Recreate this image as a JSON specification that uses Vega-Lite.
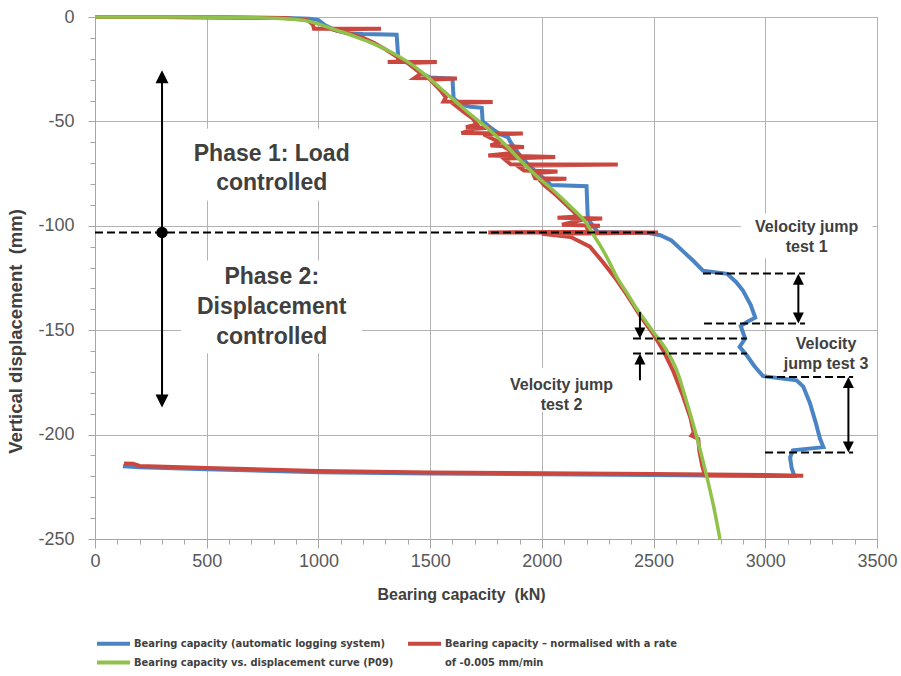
{
  "$schema": "https://vega.github.io/schema/vega-lite/v6.json",
  "width": 782,
  "height": 522,
  "autosize": "none",
  "padding": {"left": 95, "top": 17, "right": 24, "bottom": 137},
  "background": "white",
  "datasets": {
    "blue": [
      {"x": 0, "y": 0}, {"x": 300, "y": 0}, {"x": 600, "y": -0.2}, {"x": 850, "y": -0.5}, {"x": 960, "y": -0.8},
      {"x": 1000, "y": -1.5}, {"x": 1030, "y": -4}, {"x": 1080, "y": -6.5}, {"x": 1130, "y": -7.8}, {"x": 1200, "y": -8.2},
      {"x": 1350, "y": -8.5}, {"x": 1358, "y": -20.5}, {"x": 1400, "y": -22}, {"x": 1460, "y": -27}, {"x": 1500, "y": -29},
      {"x": 1600, "y": -29.5}, {"x": 1605, "y": -39}, {"x": 1640, "y": -42}, {"x": 1680, "y": -43}, {"x": 1731, "y": -43.5},
      {"x": 1735, "y": -50}, {"x": 1770, "y": -53}, {"x": 1810, "y": -56}, {"x": 1848, "y": -57.5}, {"x": 1860, "y": -60},
      {"x": 1900, "y": -66}, {"x": 1950, "y": -72}, {"x": 2000, "y": -76.5}, {"x": 2040, "y": -80.5}, {"x": 2200, "y": -81},
      {"x": 2205, "y": -95}, {"x": 2215, "y": -98}, {"x": 2250, "y": -103}, {"x": 2480, "y": -103.5}, {"x": 2530, "y": -104.5},
      {"x": 2580, "y": -107}, {"x": 2630, "y": -112}, {"x": 2680, "y": -117}, {"x": 2721, "y": -121.5}, {"x": 2830, "y": -123},
      {"x": 2870, "y": -127}, {"x": 2900, "y": -131}, {"x": 2935, "y": -138}, {"x": 2955, "y": -144}, {"x": 2920, "y": -146},
      {"x": 2890, "y": -148}, {"x": 2910, "y": -154}, {"x": 2885, "y": -158}, {"x": 2917, "y": -162}, {"x": 2950, "y": -167},
      {"x": 2990, "y": -172}, {"x": 3140, "y": -174}, {"x": 3170, "y": -177}, {"x": 3200, "y": -185}, {"x": 3225, "y": -194},
      {"x": 3245, "y": -202}, {"x": 3260, "y": -206}, {"x": 3124, "y": -207.5}, {"x": 3111, "y": -211}, {"x": 3118, "y": -216},
      {"x": 3130, "y": -219.8}, {"x": 3000, "y": -219.8}, {"x": 2500, "y": -219.4}, {"x": 2000, "y": -219}, {"x": 1500, "y": -218.6},
      {"x": 1000, "y": -218}, {"x": 500, "y": -216.6}, {"x": 200, "y": -215.6}, {"x": 125, "y": -215.2}
    ],
    "red": [
      {"x": 0, "y": 0}, {"x": 300, "y": 0}, {"x": 600, "y": -0.2}, {"x": 850, "y": -0.5}, {"x": 950, "y": -1.5},
      {"x": 975, "y": -3.5}, {"x": 980, "y": -5.6}, {"x": 1280, "y": -5.6}, {"x": 1060, "y": -5.9}, {"x": 1150, "y": -8.2},
      {"x": 1200, "y": -10}, {"x": 1250, "y": -12.5}, {"x": 1300, "y": -15.5}, {"x": 1350, "y": -19}, {"x": 1370, "y": -21.3},
      {"x": 1310, "y": -21.5}, {"x": 1530, "y": -21.5}, {"x": 1400, "y": -22}, {"x": 1440, "y": -25.5}, {"x": 1460, "y": -27},
      {"x": 1430, "y": -29.3}, {"x": 1620, "y": -29.5}, {"x": 1500, "y": -30}, {"x": 1545, "y": -35}, {"x": 1570, "y": -38.5},
      {"x": 1560, "y": -40.5}, {"x": 1780, "y": -40.7}, {"x": 1600, "y": -41.2}, {"x": 1650, "y": -45.5}, {"x": 1690, "y": -48.5},
      {"x": 1710, "y": -51.5}, {"x": 1660, "y": -52.8}, {"x": 1770, "y": -53}, {"x": 1700, "y": -53.5}, {"x": 1640, "y": -55.6},
      {"x": 1915, "y": -55.8}, {"x": 1740, "y": -56.3}, {"x": 1810, "y": -60}, {"x": 1770, "y": -61.5}, {"x": 1920, "y": -62.3},
      {"x": 1840, "y": -62.8}, {"x": 1880, "y": -65}, {"x": 1760, "y": -66.3}, {"x": 2060, "y": -67}, {"x": 1830, "y": -67.8},
      {"x": 1860, "y": -70.5}, {"x": 2340, "y": -70.7}, {"x": 1890, "y": -71.2}, {"x": 1920, "y": -73.5}, {"x": 2070, "y": -74}, {"x": 1960, "y": -74.8},
      {"x": 1970, "y": -77.2}, {"x": 2110, "y": -77.5}, {"x": 1990, "y": -78}, {"x": 2010, "y": -80.5}, {"x": 2050, "y": -84}, {"x": 2100, "y": -89},
      {"x": 2140, "y": -93}, {"x": 2160, "y": -95.5}, {"x": 2070, "y": -96.2}, {"x": 2270, "y": -96.5}, {"x": 2185, "y": -97},
      {"x": 2090, "y": -99.5}, {"x": 2260, "y": -100}, {"x": 2200, "y": -100.6}, {"x": 2210, "y": -102.8}, {"x": 1760, "y": -103.2}, {"x": 2520, "y": -103.2},
      {"x": 2280, "y": -103.6}, {"x": 2000, "y": -103.8}, {"x": 2130, "y": -105.4}, {"x": 2215, "y": -110}, {"x": 2270, "y": -117},
      {"x": 2325, "y": -124.5}, {"x": 2380, "y": -133}, {"x": 2440, "y": -143}, {"x": 2500, "y": -152}, {"x": 2545, "y": -160},
      {"x": 2590, "y": -170}, {"x": 2630, "y": -181}, {"x": 2665, "y": -192}, {"x": 2680, "y": -199}, {"x": 2670, "y": -200.5},
      {"x": 2700, "y": -202}, {"x": 2705, "y": -208}, {"x": 2718, "y": -215}, {"x": 2730, "y": -219.5}, {"x": 3170, "y": -219.7},
      {"x": 3000, "y": -219.4}, {"x": 2500, "y": -218.9}, {"x": 2000, "y": -218.5}, {"x": 1500, "y": -218.1}, {"x": 1000, "y": -217.4},
      {"x": 500, "y": -216}, {"x": 200, "y": -215}, {"x": 170, "y": -213.9}, {"x": 130, "y": -213.8}
    ],
    "green": [
      {"x": 0, "y": 0}, {"x": 400, "y": 0}, {"x": 700, "y": -0.3}, {"x": 850, "y": -0.8}, {"x": 930, "y": -1.5},
      {"x": 990, "y": -3}, {"x": 1050, "y": -5.2}, {"x": 1110, "y": -7.3}, {"x": 1170, "y": -9.6}, {"x": 1240, "y": -12.5},
      {"x": 1320, "y": -16.5}, {"x": 1400, "y": -21.5}, {"x": 1470, "y": -27}, {"x": 1545, "y": -34}, {"x": 1620, "y": -41},
      {"x": 1690, "y": -47.5}, {"x": 1770, "y": -54.5}, {"x": 1840, "y": -61.5}, {"x": 1902, "y": -68.5}, {"x": 1975, "y": -76},
      {"x": 2051, "y": -83}, {"x": 2130, "y": -91}, {"x": 2201, "y": -99}, {"x": 2235, "y": -105}, {"x": 2270, "y": -111},
      {"x": 2305, "y": -118}, {"x": 2335, "y": -124.5}, {"x": 2380, "y": -132}, {"x": 2420, "y": -139}, {"x": 2460, "y": -145},
      {"x": 2500, "y": -151}, {"x": 2555, "y": -159}, {"x": 2603, "y": -169}, {"x": 2650, "y": -185}, {"x": 2693, "y": -201},
      {"x": 2738, "y": -220}, {"x": 2770, "y": -235}, {"x": 2797, "y": -250}
    ],
    "boxes": [
      {"x": 385, "x2": 1195, "y": -53.5, "y2": -88},
      {"x": 385, "x2": 1195, "y": -116.6, "y2": -161},
      {"x": 2890, "x2": 3480, "y": -94, "y2": -115.6},
      {"x": 1820, "x2": 2360, "y": -168, "y2": -189}
    ],
    "dashes": [
      {"x": 0, "x2": 2520, "y": -103.2},
      {"x": 2721, "x2": 3178, "y": -122.9},
      {"x": 2726, "x2": 3178, "y": -146.8},
      {"x": 2408, "x2": 2917, "y": -154},
      {"x": 2408, "x2": 2917, "y": -161.2},
      {"x": 2999, "x2": 3393, "y": -172.4},
      {"x": 2999, "x2": 3393, "y": -208.6}
    ],
    "shafts": [
      {"x": 300, "y": -30, "y2": -182},
      {"x": 3148, "y": -127, "y2": -143},
      {"x": 2439, "y": -141.3, "y2": -150},
      {"x": 2439, "y": -165, "y2": -174},
      {"x": 3372, "y": -176.5, "y2": -204.5}
    ],
    "phaseHeads": [
      {"x": 300, "y": -25.5, "dir": "up"},
      {"x": 300, "y": -187, "dir": "down"}
    ],
    "jumpHeads": [
      {"x": 3148, "y": -123, "dir": "up"},
      {"x": 3148, "y": -146.8, "dir": "down"},
      {"x": 2439, "y": -154, "dir": "down"},
      {"x": 2439, "y": -161.2, "dir": "up"},
      {"x": 3372, "y": -172.4, "dir": "up"},
      {"x": 3372, "y": -208.6, "dir": "down"}
    ],
    "dot": [{"x": 300, "y": -103.2}],
    "phaseText": [
      {"x": 791, "y": -65.4, "text": "Phase 1: Load"},
      {"x": 791, "y": -79.6, "text": "controlled"},
      {"x": 791, "y": -124.7, "text": "Phase 2:"},
      {"x": 791, "y": -139, "text": "Displacement"},
      {"x": 791, "y": -153.4, "text": "controlled"}
    ],
    "jumpText": [
      {"x": 3185, "y": -100.6, "text": "Velocity jump"},
      {"x": 3185, "y": -110.2, "text": "test 1"},
      {"x": 2088, "y": -176.4, "text": "Velocity jump"},
      {"x": 2088, "y": -185.6, "text": "test 2"},
      {"x": 3272, "y": -156.4, "text": "Velocity"},
      {"x": 3272, "y": -166, "text": "jump test 3"}
    ]
  },
  "layer": [
    {
      "data": {"name": "blue"},
      "mark": {"type": "line", "strokeWidth": 4},
      "encoding": {
        "x": {
          "field": "x", "type": "quantitative",
          "scale": {"domain": [0, 3500], "nice": false, "zero": false},
          "axis": {
            "title": "Bearing capacity\u00a0 (kN)",
            "titleFontSize": 16,
            "titleX": 366,
            "titlePadding": 16,
            "tickCount": 100,
            "values": [0,100,200,300,400,500,600,700,800,900,1000,1100,1200,1300,1400,1500,1600,1700,1800,1900,2000,2100,2200,2300,2400,2500,2600,2700,2800,2900,3000,3100,3200,3300,3400,3500],
            "labelExpr": "datum.value % 500 === 0 ? datum.value + '' : ''",
            "tickSize": {"condition": {"test": "datum.value % 500 === 0", "value": 9}, "value": 5},
            "gridOpacity": {"condition": {"test": "datum.value % 500 === 0", "value": 1}, "value": 0},
            "labelPadding": 4,
            "labelFlush": false,
            "labelOverlap": false
          }
        },
        "y": {
          "field": "y", "type": "quantitative",
          "scale": {"domain": [-250, 0], "nice": false, "zero": false},
          "axis": {
            "title": "Vertical displacement\u00a0 (mm)",
            "titleFontSize": 18.5,
            "titleY": 314,
            "titlePadding": 12,
            "tickCount": 100,
            "values": [-250,-240,-230,-220,-210,-200,-190,-180,-170,-160,-150,-140,-130,-120,-110,-100,-90,-80,-70,-60,-50,-40,-30,-20,-10,0],
            "labelExpr": "datum.value % 50 === 0 ? datum.value + '' : ''",
            "tickSize": {"condition": {"test": "datum.value % 50 === 0", "value": 7}, "value": 5},
            "gridOpacity": {"condition": {"test": "datum.value % 50 === 0", "value": 1}, "value": 0},
            "labelPadding": 14,
            "labelFlush": false,
            "labelOverlap": false
          }
        },
        "order": {"value": null},
        "color": {
          "datum": "Bearing capacity (automatic logging system)",
          "type": "nominal",
          "scale": {
            "domain": [
              "Bearing capacity (automatic logging system)",
              "Bearing capacity \u2013 normalised with a rate",
              "Bearing capacity vs. displacement curve (P09)",
              "of -0.005 mm/min"
            ],
            "range": ["#4a84c4", "#c9473f", "#90c24b", "#ffffff"]
          },
          "legend": {
            "title": null,
            "orient": "bottom",
            "direction": "horizontal",
            "columns": 2,
            "offset": 34,
            "symbolType": "M-3,0H3",
            "symbolSize": 121,
            "symbolOffset": 11,
            "symbolStrokeWidth": 4,
            "labelFont": "Liberation Sans Narrow, DejaVu Sans Condensed, Liberation Sans",
            "labelFontWeight": "bold",
            "labelFontSize": 11,
            "labelColor": "#404040",
            "labelLimit": 500,
            "labelOffset": 13,
            "columnPadding": 6,
            "rowPadding": 2
          }
        }
      }
    },
    {
      "data": {"name": "red"},
      "mark": {"type": "line", "strokeWidth": 4},
      "encoding": {
        "x": {"field": "x", "type": "quantitative"},
        "y": {"field": "y", "type": "quantitative"},
        "order": {"value": null},
        "color": {"datum": "Bearing capacity \u2013 normalised with a rate", "type": "nominal"}
      }
    },
    {
      "data": {"name": "green"},
      "mark": {"type": "line", "strokeWidth": 3.5, "interpolate": "monotone"},
      "encoding": {
        "x": {"field": "x", "type": "quantitative"},
        "y": {"field": "y", "type": "quantitative"},
        "order": {"value": null},
        "color": {"datum": "Bearing capacity vs. displacement curve (P09)", "type": "nominal"}
      }
    },
    {
      "data": {"name": "boxes"},
      "mark": {"type": "rect", "fill": "white"},
      "encoding": {
        "x": {"field": "x", "type": "quantitative"},
        "x2": {"field": "x2"},
        "y": {"field": "y", "type": "quantitative"},
        "y2": {"field": "y2"}
      }
    },
    {
      "data": {"name": "dashes"},
      "mark": {"type": "rule", "color": "black", "strokeWidth": 2, "strokeDash": [8, 4]},
      "encoding": {
        "x": {"field": "x", "type": "quantitative"},
        "x2": {"field": "x2"},
        "y": {"field": "y", "type": "quantitative"}
      }
    },
    {
      "data": {"name": "shafts"},
      "mark": {"type": "rule", "color": "black", "strokeWidth": 2},
      "encoding": {
        "x": {"field": "x", "type": "quantitative"},
        "y": {"field": "y", "type": "quantitative"},
        "y2": {"field": "y2"}
      }
    },
    {
      "data": {"name": "phaseHeads"},
      "mark": {"type": "point", "filled": true, "color": "black", "opacity": 1, "size": 676},
      "encoding": {
        "x": {"field": "x", "type": "quantitative"},
        "y": {"field": "y", "type": "quantitative"},
        "shape": {
          "field": "dir", "type": "nominal",
          "scale": {"domain": ["up", "down"], "range": ["M0,0L0.5,1L-0.5,1Z", "M0,0L0.5,-1L-0.5,-1Z"]},
          "legend": null
        }
      }
    },
    {
      "data": {"name": "jumpHeads"},
      "mark": {"type": "point", "filled": true, "color": "black", "opacity": 1, "size": 484},
      "encoding": {
        "x": {"field": "x", "type": "quantitative"},
        "y": {"field": "y", "type": "quantitative"},
        "shape": {"field": "dir", "type": "nominal", "legend": null}
      }
    },
    {
      "data": {"name": "dot"},
      "mark": {"type": "point", "filled": true, "color": "black", "opacity": 1, "shape": "circle", "size": 130},
      "encoding": {
        "x": {"field": "x", "type": "quantitative"},
        "y": {"field": "y", "type": "quantitative"}
      }
    },
    {
      "data": {"name": "phaseText"},
      "mark": {"type": "text", "font": "Liberation Sans", "fontWeight": "bold", "fontSize": 23, "color": "#404040", "align": "center", "baseline": "middle"},
      "encoding": {
        "x": {"field": "x", "type": "quantitative"},
        "y": {"field": "y", "type": "quantitative"},
        "text": {"field": "text"}
      }
    },
    {
      "data": {"name": "jumpText"},
      "mark": {"type": "text", "font": "Liberation Sans", "fontWeight": "bold", "fontSize": 16, "color": "#404040", "align": "center", "baseline": "middle"},
      "encoding": {
        "x": {"field": "x", "type": "quantitative"},
        "y": {"field": "y", "type": "quantitative"},
        "text": {"field": "text"}
      }
    }
  ],
  "config": {
    "view": {"stroke": "#a6a6a6", "strokeWidth": 1},
    "axis": {
      "gridColor": "#b3b3b3",
      "gridWidth": 1,
      "domainColor": "#a6a6a6",
      "tickColor": "#a6a6a6",
      "labelFont": "Liberation Sans",
      "labelFontSize": 18,
      "labelColor": "#595959",
      "titleFont": "Liberation Sans",
      "titleFontWeight": "bold",
      "titleColor": "#404040"
    }
  }
}
